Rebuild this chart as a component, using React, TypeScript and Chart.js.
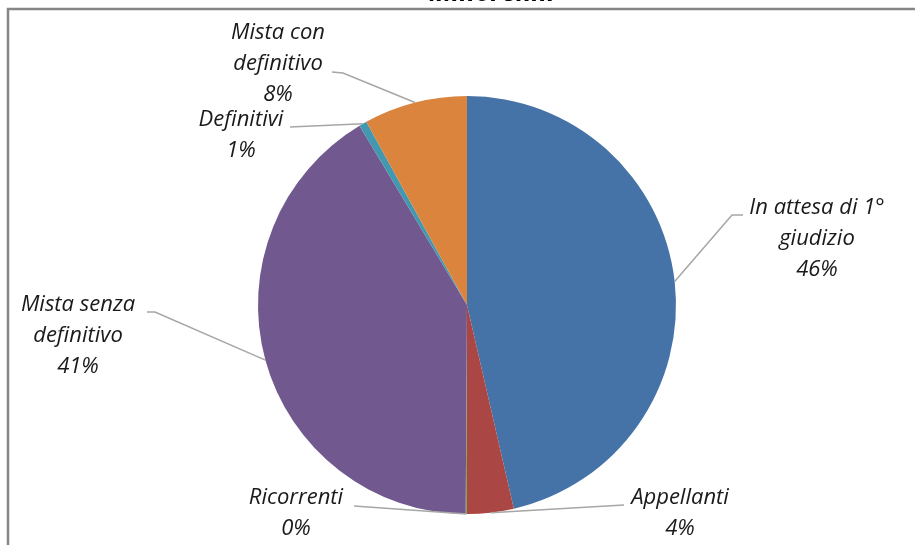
import React, { useEffect, useRef } from "react";
import { Chart, registerables } from "chart.js";

Chart.register(...registerables);

const TITLE = "Minorenni";
const CATEGORIES: string[][] = [
  ["In attesa di 1°", "giudizio"],
  ["Appellanti"],
  ["Ricorrenti"],
  ["Mista senza", "definitivo"],
  ["Definitivi"],
  ["Mista con", "definitivo"],
];
const VALUES = [46.4, 3.6, 0.1, 41.3, 0.6, 8.0];
const COLORS = ["#4572A7", "#AA4643", "#89A54E", "#71588F", "#4198AF", "#DB843D"];

// label layout: text centre (first line) and leader points, offsets in px from pie centre
const LABEL_TEXT: [number, number][] = [
  [350, -97],
  [213, 193],
  [-171, 193],
  [-389, 0],
  [-226, -185],
  [-189, -272],
];
const LEADER_POINTS: [number, number][][] = [
  [[276, -90], [265, -90]],
  [[157, 200]],
  [[-113, 201]],
  [[-320, 7], [-312, 7]],
  [[-177, -178]],
  [[-135, -233], [-124, -232]],
];

const FONT = "italic 22px 'Open Sans', Lato, sans-serif";
const LINE_H = 31;

const decorPlugin = {
  id: "decor",
  beforeDraw(chart: any) {
    const ctx = chart.ctx;
    ctx.save();
    ctx.fillStyle = "#ffffff";
    ctx.fillRect(0, 0, chart.width, chart.height);
    // frame
    ctx.strokeStyle = "#868686";
    ctx.lineWidth = 2.5;
    ctx.beginPath();
    ctx.moveTo(8, chart.height + 5);
    ctx.lineTo(8, 9);
    ctx.lineTo(chart.width + 5, 9);
    ctx.stroke();
    // title (only bottom visible)
    ctx.fillStyle = "#000000";
    ctx.font = "italic bold 26px 'Open Sans', Lato, sans-serif";
    ctx.textAlign = "center";
    ctx.textBaseline = "alphabetic";
    ctx.fillText(TITLE, 492, 1);
    ctx.restore();
  },
  afterDraw(chart: any) {
    const ctx = chart.ctx;
    const meta = chart.getDatasetMeta(0);
    const total = VALUES.reduce((a, b) => a + b, 0);
    ctx.save();
    meta.data.forEach((arc: any, i: number) => {
      const p = arc.getProps(["x", "y", "startAngle", "endAngle", "outerRadius"], true);
      const mid = (p.startAngle + p.endAngle) / 2;
      const ex = p.x + Math.cos(mid) * p.outerRadius;
      const ey = p.y + Math.sin(mid) * p.outerRadius;
      // leader
      ctx.strokeStyle = "#a6a6a6";
      ctx.lineWidth = 1.5;
      ctx.beginPath();
      const pts = LEADER_POINTS[i];
      ctx.moveTo(p.x + pts[0][0], p.y + pts[0][1]);
      for (let k = 1; k < pts.length; k++) ctx.lineTo(p.x + pts[k][0], p.y + pts[k][1]);
      ctx.lineTo(ex, ey);
      ctx.stroke();
      // text
      const lines = [...CATEGORIES[i], Math.round((VALUES[i] / total) * 100) + "%"];
      ctx.fillStyle = "#1a1a1a";
      ctx.font = FONT;
      ctx.textAlign = "center";
      ctx.textBaseline = "middle";
      const [tx, ty] = LABEL_TEXT[i];
      lines.forEach((ln, j) => {
        ctx.fillText(ln, p.x + tx, p.y + ty + j * LINE_H);
      });
    });
    ctx.restore();
  },
};

export default function App() {
  const ref = useRef<HTMLCanvasElement | null>(null);
  useEffect(() => {
    if (!ref.current) return;
    const chart = new Chart(ref.current, {
      type: "pie",
      data: {
        labels: CATEGORIES.map((c) => c.join(" ")),
        datasets: [
          {
            data: VALUES,
            backgroundColor: COLORS,
            borderWidth: 0,
          },
        ],
      },
      options: {
        animation: false,
        responsive: false,
        maintainAspectRatio: false,
        layout: { padding: { left: 258, right: 239, top: 96, bottom: 31 } },
        plugins: {
          legend: { display: false },
          title: { display: false },
          tooltip: { enabled: false },
        },
      },
      plugins: [decorPlugin],
    });
    return () => chart.destroy();
  }, []);
  return (
    <div style={{ position: "absolute", left: 0, top: 0, width: 915, height: 545 }}>
      <canvas ref={ref} width={915} height={545} style={{ width: 915, height: 545 }} />
    </div>
  );
}
